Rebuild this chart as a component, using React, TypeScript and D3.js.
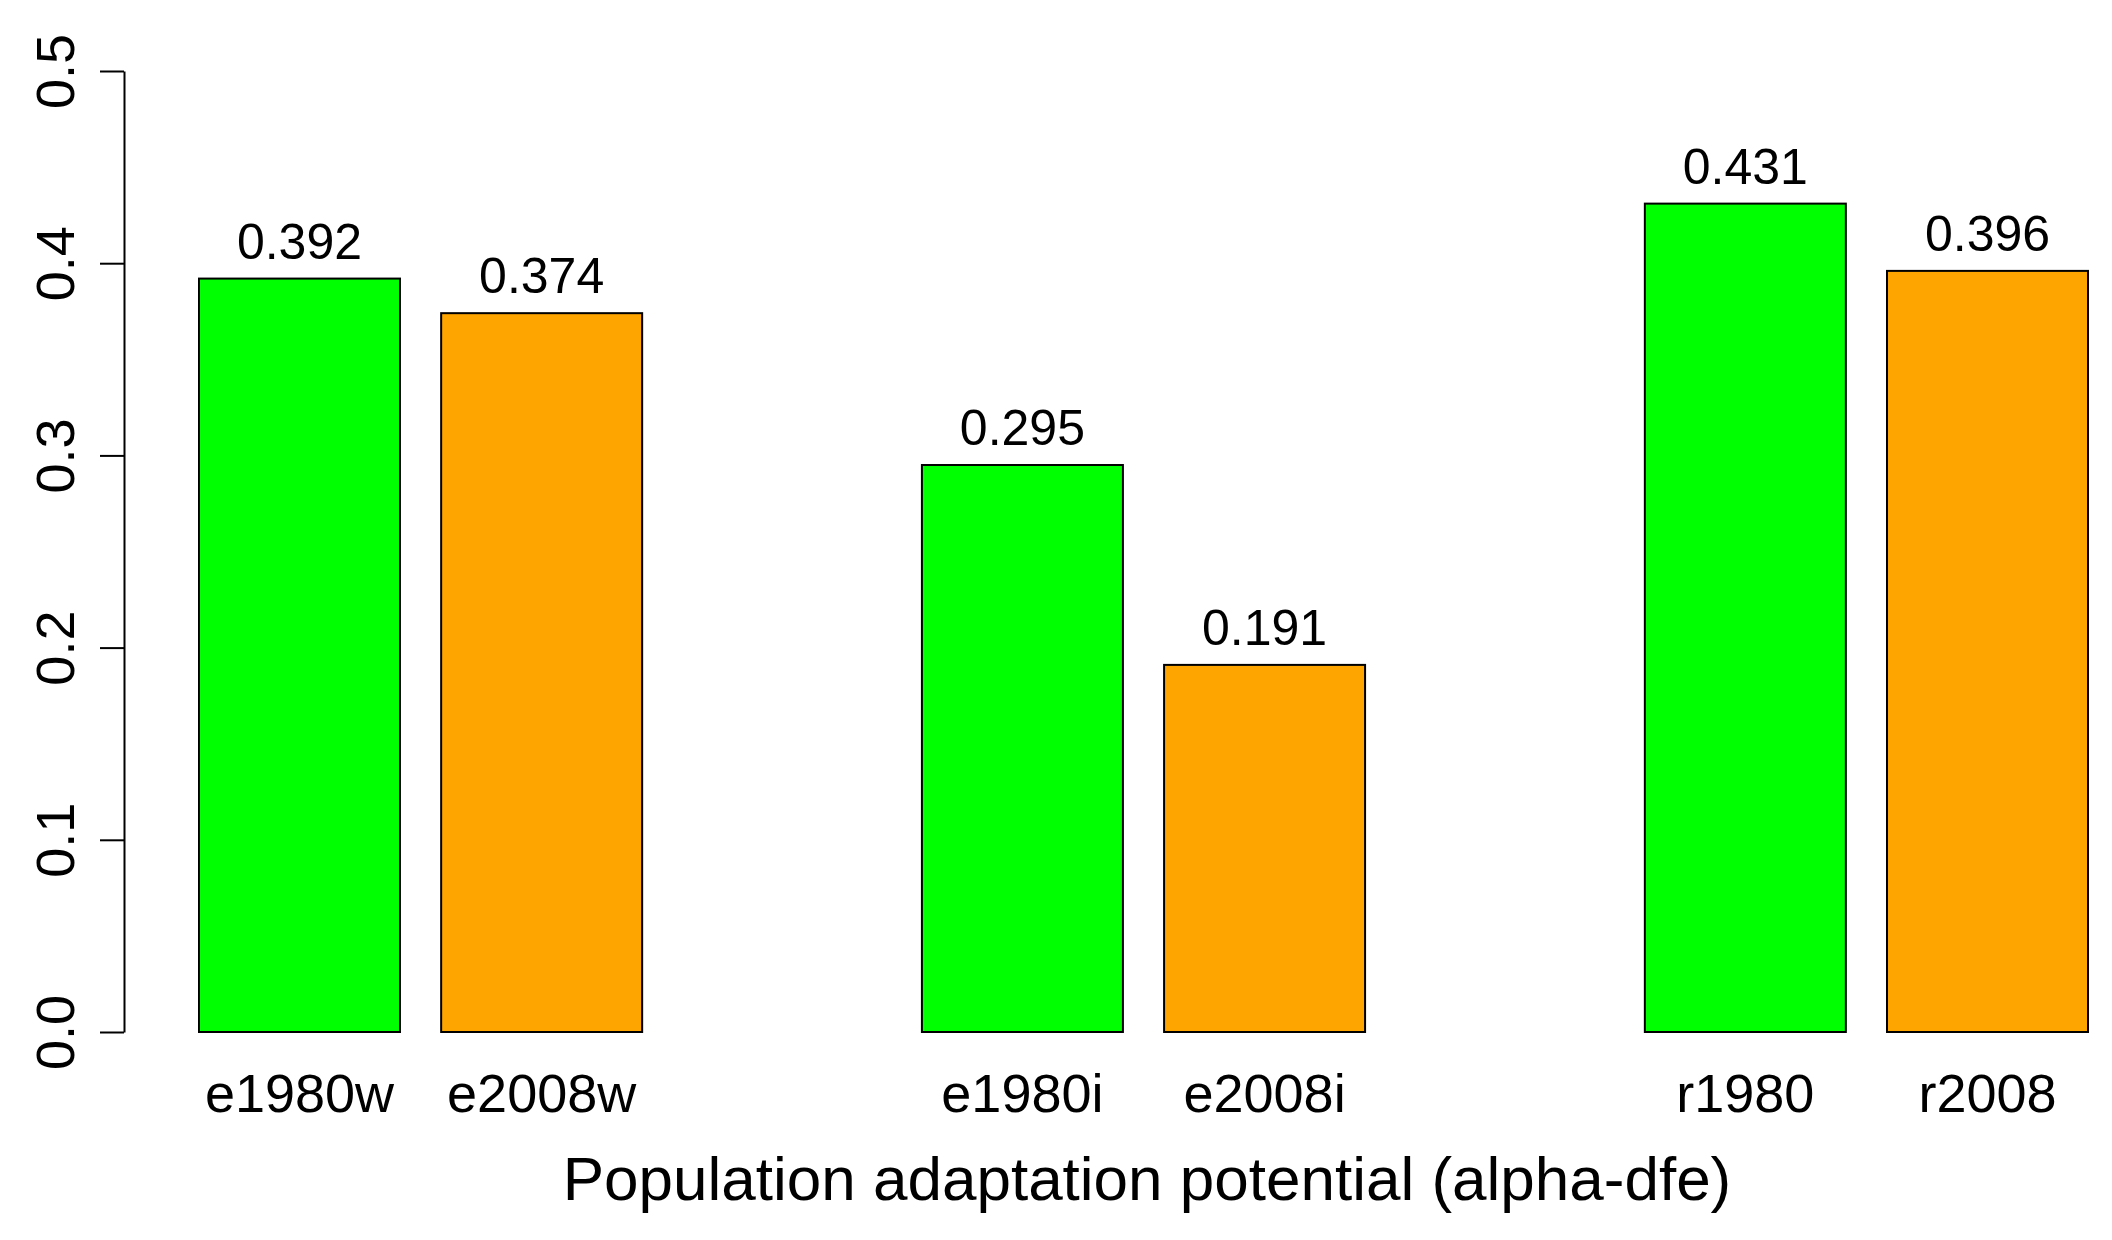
import { useRef, useEffect } from "react";
import * as d3 from "d3";

const groups = ["ew", "ei", "r"];
const series = ["1980", "2008"];
const labels1980 = ["e1980w", "e1980i", "r1980"];
const labels2008 = ["e2008w", "e2008i", "r2008"];
const values1980 = [0.392, 0.295, 0.431];
const values2008 = [0.374, 0.191, 0.396];
const yTicks = [0, 0.1, 0.2, 0.3, 0.4, 0.5];
const colors = ["#00ff00", "#ffa500"];
const xTitle = "Population adaptation potential (alpha-dfe)";

const W = 2112;
const H = 1240;
const FONT = "'Liberation Sans', Arial, sans-serif";

export default function App() {
  const axisRef = useRef<SVGGElement | null>(null);

  const x0 = d3.scaleBand().domain(groups).range([199, 2088]).paddingInner(0.387).paddingOuter(0);
  const x1 = d3.scaleBand().domain(series).range([0, x0.bandwidth()]).paddingInner(0.17).paddingOuter(0);
  const y = d3.scaleLinear().domain([0, 0.5]).range([1032, 71]);

  const bars = groups.flatMap((g, i) => [
    { g, s: series[0], v: values1980[i], label: labels1980[i], color: colors[0] },
    { g, s: series[1], v: values2008[i], label: labels2008[i], color: colors[1] },
  ]);

  useEffect(() => {
    const g = d3.select(axisRef.current);
    g.selectAll("*").remove();
    g.attr("transform", "translate(124,0)").call(
      d3.axisLeft(y).tickValues(yTicks).tickSize(24).tickSizeOuter(0).tickFormat(d3.format(".1f"))
    );
    g.select(".domain").attr("stroke-width", 2);
    g.selectAll(".tick line").attr("stroke-width", 2);
    g.selectAll(".tick text")
      .attr("transform", "rotate(-90)")
      .attr("x", 0)
      .attr("y", -50)
      .attr("dy", 0)
      .attr("text-anchor", "middle")
      .attr("font-size", 54)
      .attr("font-family", FONT)
      .attr("fill", "#000");
  }, []);

  return (
    <svg width={W} height={H} style={{ position: "absolute", left: 0, top: 0, background: "#fff" }}>
      <rect width={W} height={H} fill="#fff" />
      <g ref={axisRef} />
      {bars.map((b) => {
        const bx = (x0(b.g) ?? 0) + (x1(b.s) ?? 0);
        const bw = x1.bandwidth();
        return (
          <g key={b.label}>
            <rect x={bx} y={y(b.v)} width={bw} height={y(0) - y(b.v)} fill={b.color} stroke="#000" strokeWidth={2} />
            <text x={bx + bw / 2} y={y(b.v) - 20} textAnchor="middle" fontSize={50} fontFamily={FONT} fill="#000">
              {b.v.toFixed(3)}
            </text>
            <text x={bx + bw / 2} y={1112} textAnchor="middle" fontSize={54} fontFamily={FONT} fill="#000">
              {b.label}
            </text>
          </g>
        );
      })}
      <text x={1147} y={1200} textAnchor="middle" fontSize={62} fontFamily={FONT} fill="#000">
        {xTitle}
      </text>
    </svg>
  );
}
